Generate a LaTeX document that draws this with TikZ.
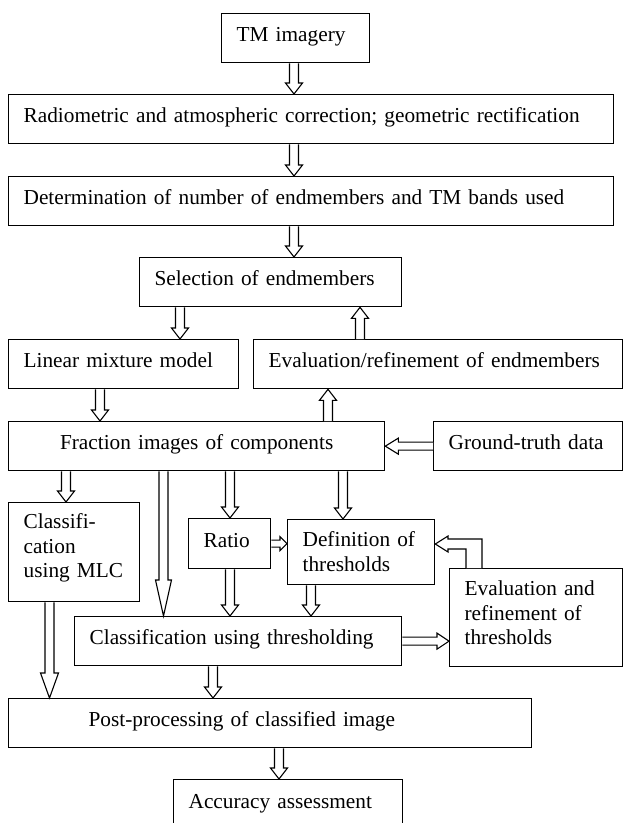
\documentclass[tikz,border=0pt]{standalone}
\usepackage{fontspec}
\setmainfont{Liberation Serif}
\usetikzlibrary{calc}
% block arrow: #1 shaft half width, #2 head half width, #3 head length, #4 start, #5 end
\newcommand\blkarrow[5]{%
  \path (#4) coordinate (ba) (#5) coordinate (bb);
  \path ($(bb)!#3pt!(ba)$) coordinate (bc);
  \draw[blk] ($(ba)!#1pt!90:(bb)$) -- ($(bc)!#1pt!-90:(ba)$) -- ($(bc)!#2pt!-90:(ba)$) -- (bb)
     -- ($(bc)!#2pt!90:(ba)$) -- ($(bc)!#1pt!90:(ba)$) -- ($(ba)!#1pt!-90:(bb)$);
}
\newcommand\barrow[2]{\blkarrow{4.5}{8.5}{11}{#1}{#2}}
\begin{document}
\begin{tikzpicture}[x=1pt,y=-1pt,
  basebox/.style={draw, line width=1.3pt, anchor=north west, inner xsep=15pt, inner ysep=0pt,
    align=left, font=\fontsize{21.3}{24.5}\selectfont},
  box/.style={basebox, text height=13pt, text depth=5.5pt},
  blk/.style={line width=1.1pt, fill=white, line join=miter}]
\useasboundingbox (0,0) rectangle (624,823);

\node[box, minimum width=148pt, minimum height=49pt, text width=118pt] (tm) at (221,13) {TM imagery};
\node[box, minimum width=605pt, minimum height=49pt, text width=575pt] (rad) at (8,94) {Radiometric and atmospheric correction; geometric rectification};
\node[box, minimum width=605pt, minimum height=49pt, text width=575pt] (det) at (8,176) {Determination of number of endmembers and TM bands used};
\node[box, minimum width=262pt, minimum height=49pt, text width=232pt] (sel) at (139,257) {Selection of endmembers};
\node[box, minimum width=230pt, minimum height=49pt, text width=200pt] (lin) at (8,339) {Linear mixture model};
\node[box, minimum width=369pt, minimum height=49pt, text width=339pt] (eval) at (253,339) {Evaluation/refinement of endmembers};
\node[box, minimum width=376pt, minimum height=49pt, text width=346pt, align=center] (frac) at (8,421) {Fraction images of components};
\node[box, minimum width=189pt, minimum height=49pt, text width=159pt] (gt) at (433,421) {Ground-truth data};
\node[basebox, minimum width=131pt, minimum height=99pt, text width=101pt, text height=15pt, text depth=62pt] (mlc) at (8,502) {Classifi-\\cation\\using MLC};
\node[box, minimum width=82pt, minimum height=50pt, text width=52pt] (ratio) at (188,518) {Ratio};
\node[basebox, minimum width=147pt, minimum height=65pt, text width=117pt, text height=15pt, text depth=26pt] (def) at (287,519) {Definition of\\thresholds};
\node[basebox, minimum width=173pt, minimum height=98pt, text width=143pt, text height=15pt, text depth=59pt] (evr) at (449,568) {Evaluation and\\refinement of\\thresholds};
\node[box, minimum width=327pt, minimum height=49pt, text width=297pt] (ct) at (74,616) {Classification using thresholding};
\node[box, minimum width=523pt, minimum height=49pt, text width=493pt] (post) at (8,698) {\hspace*{65pt}Post-processing of classified image};
\node[box, minimum width=229pt, minimum height=51pt, text width=199pt] (acc) at (173,779) {Accuracy assessment};

% connectors
\barrow{294,0 |- tm.south}{294,0 |- rad.north}
\barrow{294,0 |- rad.south}{294,0 |- det.north}
\barrow{294,0 |- det.south}{294,0 |- sel.north}
\barrow{180,0 |- sel.south}{180,0 |- lin.north}
\barrow{360,0 |- eval.north}{360,0 |- sel.south}
\barrow{100,0 |- lin.south}{100,0 |- frac.north}
\barrow{328,0 |- frac.north}{328,0 |- eval.south}
\blkarrow{4}{8}{13}{gt.west}{frac.east}
\barrow{66,0 |- frac.south}{66,0 |- mlc.north}
\blkarrow{4.5}{8}{36}{163.5,0 |- frac.south}{163.5,0 |- ct.north}
\barrow{230,0 |- frac.south}{230,0 |- ratio.north}
\barrow{343,0 |- frac.south}{343,0 |- def.north}
\blkarrow{3.5}{7}{7}{ratio.east}{def.west |- ratio.east}
\barrow{230,0 |- ratio.south}{230,0 |- ct.north}
\barrow{311,0 |- def.south}{311,0 |- ct.north}
\blkarrow{4}{8}{12}{ct.east}{evr.west |- ct.east}
\blkarrow{4.5}{9}{25}{49.5,0 |- mlc.south}{49.5,0 |- post.north}
\barrow{213,0 |- ct.south}{213,0 |- post.north}
\barrow{279,0 |- post.south}{279,0 |- acc.north}
% feedback from evaluation of thresholds to definition of thresholds
\draw[blk] (482,0 |- evr.north) -- (482,539) -- (448,539) -- (448,536) -- (def.east |- 0,544)
  -- (448,552) -- (448,549) -- (466,549) -- (466,0 |- evr.north);
\end{tikzpicture}
\end{document}
